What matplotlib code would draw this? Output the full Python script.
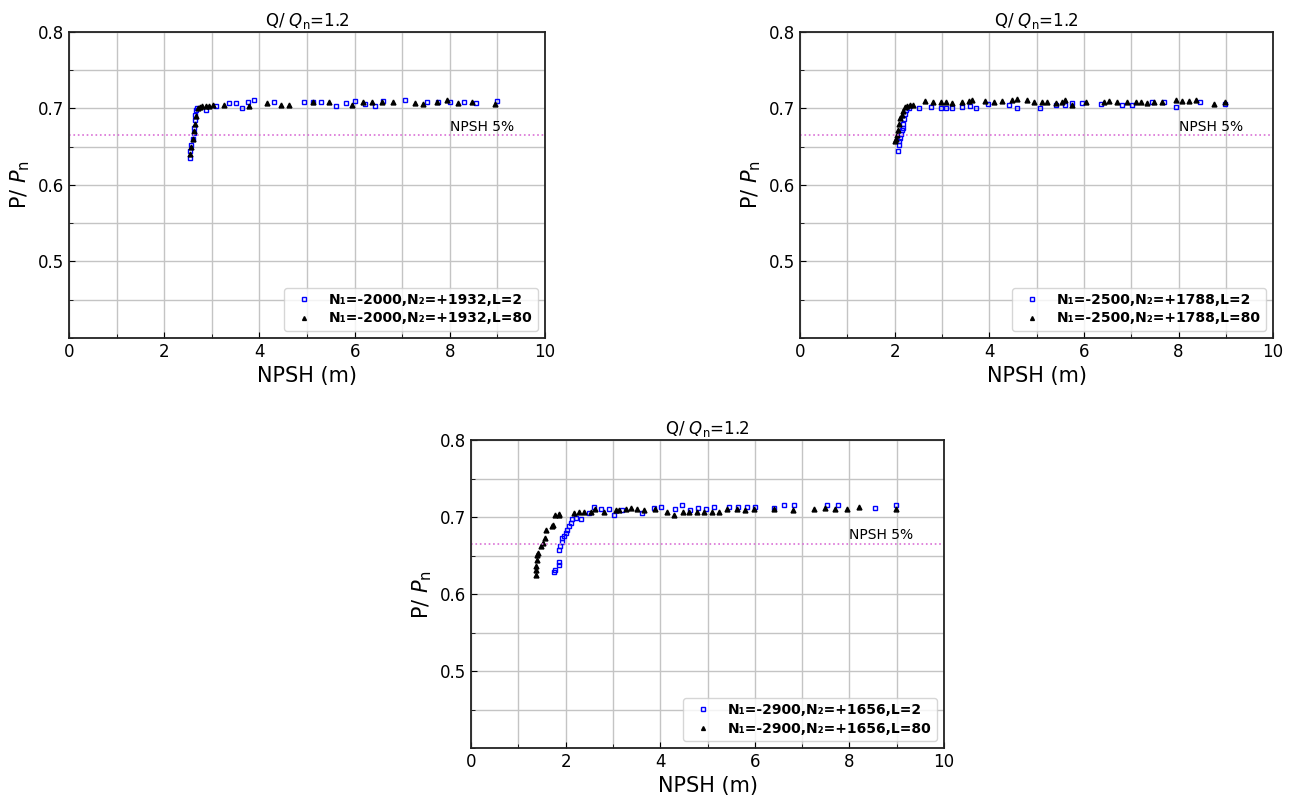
import numpy as np
import matplotlib
matplotlib.use("Agg")
import matplotlib.pyplot as plt
from matplotlib.ticker import MultipleLocator

# ---- data ----
# case 1: N1=-2000, N2=+1932
c1_l2_x = [2.54, 2.55, 2.57, 2.60, 2.62, 2.63, 2.64, 2.65, 2.66, 2.68, 2.87, 3.08, 3.36, 3.50, 3.63,
           3.75, 3.89, 4.31, 4.94, 5.12, 5.30, 5.61, 5.82, 6.01, 6.21, 6.42, 6.60, 7.05, 7.51, 7.76,
           8.00, 8.29, 8.54, 9.00]
c1_l2_y = [0.635, 0.645, 0.652, 0.660, 0.668, 0.675, 0.685, 0.692, 0.698, 0.700, 0.698, 0.703, 0.707,
           0.707, 0.700, 0.708, 0.711, 0.709, 0.709, 0.708, 0.709, 0.703, 0.707, 0.710, 0.706, 0.703,
           0.710, 0.711, 0.709, 0.709, 0.709, 0.708, 0.707, 0.710]
c1_l80_x = [2.55, 2.57, 2.60, 2.62, 2.65, 2.67, 2.70, 2.75, 2.80, 2.88, 2.95, 3.02, 3.25, 3.78, 4.15,
            4.45, 4.63, 5.12, 5.46, 5.95, 6.18, 6.37, 6.58, 6.81, 7.27, 7.44, 7.73, 7.94, 8.18, 8.46,
            8.94]
c1_l80_y = [0.640, 0.650, 0.660, 0.670, 0.680, 0.690, 0.700, 0.702, 0.703, 0.703, 0.703, 0.704, 0.705,
            0.703, 0.707, 0.705, 0.705, 0.709, 0.709, 0.705, 0.708, 0.708, 0.709, 0.708, 0.707, 0.706,
            0.709, 0.711, 0.707, 0.708, 0.706]

# case 2: N1=-2500, N2=+1788
c2_l2_x = [2.08, 2.09, 2.10, 2.12, 2.13, 2.15, 2.17, 2.18, 2.20, 2.22, 2.25, 2.30, 2.51, 2.76, 2.97,
           3.08, 3.22, 3.43, 3.60, 3.71, 3.98, 4.42, 4.59, 5.08, 5.40, 5.61, 5.75, 5.96, 6.37, 6.81,
           7.02, 7.44, 7.69, 7.94, 8.46, 8.99]
c2_l2_y = [0.645, 0.652, 0.658, 0.662, 0.667, 0.672, 0.675, 0.680, 0.686, 0.693, 0.698, 0.700, 0.701,
           0.702, 0.701, 0.700, 0.701, 0.702, 0.703, 0.701, 0.706, 0.704, 0.701, 0.700, 0.705, 0.704,
           0.707, 0.707, 0.706, 0.704, 0.705, 0.708, 0.708, 0.702, 0.708, 0.706]
c2_l80_x = [2.00, 2.03, 2.05, 2.08, 2.10, 2.12, 2.15, 2.18, 2.22, 2.26, 2.32, 2.38, 2.65, 2.80, 2.97,
            3.08, 3.22, 3.43, 3.57, 3.64, 3.92, 4.10, 4.27, 4.48, 4.58, 4.80, 4.94, 5.12, 5.23, 5.40,
            5.54, 5.61, 5.75, 6.04, 6.42, 6.53, 6.71, 6.92, 7.10, 7.20, 7.34, 7.48, 7.65, 7.94, 8.08,
            8.22, 8.36, 8.75, 8.99]
c2_l80_y = [0.657, 0.660, 0.665, 0.672, 0.680, 0.688, 0.692, 0.697, 0.702, 0.703, 0.704, 0.704, 0.710,
            0.708, 0.709, 0.708, 0.707, 0.708, 0.710, 0.711, 0.710, 0.709, 0.710, 0.711, 0.712, 0.711,
            0.709, 0.709, 0.708, 0.707, 0.709, 0.711, 0.705, 0.708, 0.708, 0.710, 0.709, 0.709, 0.708,
            0.708, 0.707, 0.708, 0.709, 0.711, 0.710, 0.710, 0.711, 0.706, 0.708]

# case 3: N1=-2900, N2=+1656
c3_l2_x = [1.75, 1.78, 1.86, 1.87, 1.86, 1.89, 1.92, 1.93, 1.96, 2.00, 2.04, 2.07, 2.11, 2.14, 2.21,
           2.32, 2.49, 2.60, 2.74, 2.92, 3.02, 3.20, 3.62, 3.87, 4.01, 4.32, 4.46, 4.64, 4.80, 4.96,
           5.13, 5.45, 5.65, 5.84, 6.01, 6.40, 6.61, 6.82, 7.53, 7.76, 8.55, 8.99]
c3_l2_y = [0.629, 0.631, 0.638, 0.641, 0.657, 0.662, 0.668, 0.673, 0.675, 0.679, 0.683, 0.688, 0.692,
           0.697, 0.699, 0.697, 0.705, 0.713, 0.710, 0.710, 0.702, 0.709, 0.705, 0.712, 0.713, 0.710,
           0.715, 0.709, 0.712, 0.710, 0.713, 0.713, 0.713, 0.713, 0.713, 0.712, 0.715, 0.716, 0.715,
           0.716, 0.712, 0.716]
c3_l80_x = [1.37, 1.37, 1.38, 1.39, 1.40, 1.42, 1.49, 1.52, 1.56, 1.59, 1.72, 1.74, 1.77, 1.85, 1.87,
            2.18, 2.28, 2.39, 2.53, 2.63, 2.81, 3.06, 3.13, 3.27, 3.39, 3.51, 3.65, 3.90, 4.15, 4.29,
            4.48, 4.61, 4.78, 4.92, 5.10, 5.25, 5.42, 5.63, 5.80, 5.98, 6.40, 6.81, 7.25, 7.49, 7.70,
            7.95, 8.20, 8.99]
c3_l80_y = [0.625, 0.631, 0.636, 0.644, 0.651, 0.653, 0.662, 0.666, 0.673, 0.683, 0.688, 0.690, 0.703,
            0.702, 0.704, 0.705, 0.706, 0.706, 0.707, 0.710, 0.707, 0.709, 0.709, 0.710, 0.712, 0.710,
            0.709, 0.710, 0.707, 0.703, 0.707, 0.706, 0.707, 0.707, 0.707, 0.706, 0.710, 0.710, 0.709,
            0.710, 0.710, 0.709, 0.710, 0.712, 0.710, 0.710, 0.713, 0.710]

labels_l2 = ["N\u2081=-2000,N\u2082=+1932,L=2", "N\u2081=-2500,N\u2082=+1788,L=2",
             "N\u2081=-2900,N\u2082=+1656,L=2"]
labels_l80 = ["N\u2081=-2000,N\u2082=+1932,L=80", "N\u2081=-2500,N\u2082=+1788,L=80",
              "N\u2081=-2900,N\u2082=+1656,L=80"]
npsh_level = 0.665

cases = [(c1_l2_x, c1_l2_y, c1_l80_x, c1_l80_y),
         (c2_l2_x, c2_l2_y, c2_l80_x, c2_l80_y),
         (c3_l2_x, c3_l2_y, c3_l80_x, c3_l80_y)]

fig = plt.figure(figsize=(12.95, 7.99), dpi=100)
rects = [[0.0533, 0.577, 0.3676, 0.383],
         [0.6178, 0.577, 0.3653, 0.383],
         [0.3637, 0.0638, 0.3653, 0.3855]]

for i, (rect, (x2, y2, x80, y80)) in enumerate(zip(rects, cases)):
    ax = fig.add_axes(rect)
    ax.plot(x2, y2, 's', ms=3.5, mfc='none', mec='blue', mew=1.0, label=labels_l2[i])
    ax.plot(x80, y80, '^', ms=3.5, color='black', label=labels_l80[i])
    ax.axhline(npsh_level, color='orchid', ls=':', lw=1.2)
    ax.text(8.0, 0.671, "NPSH 5%", fontsize=10)
    ax.set_xlim(0, 10)
    ax.set_ylim(0.4, 0.8)
    ax.xaxis.set_major_locator(MultipleLocator(2))
    ax.xaxis.set_minor_locator(MultipleLocator(1))
    ax.yaxis.set_major_locator(MultipleLocator(0.1))
    ax.yaxis.set_minor_locator(MultipleLocator(0.05))
    ax.set_yticks([0.5, 0.6, 0.7, 0.8])
    ax.grid(True, which='both', color='#c4c4c4', lw=1)
    ax.tick_params(which='both', direction='in', labelsize=12)
    ax.tick_params(which='major', length=4)
    ax.tick_params(which='minor', length=3)
    for s in ax.spines.values():
        s.set_color('#222222')
        s.set_linewidth(1.3)
    ax.set_xlabel("NPSH (m)", fontsize=15)
    ax.set_ylabel(r"P/ $P_\mathrm{n}$", fontsize=15)
    ax.set_title(r"Q/ $Q_\mathrm{n}$=1.2", fontsize=12, pad=4)
    ax.legend(loc='lower right', prop={'weight': 'bold', 'size': 10}, handletextpad=0.8,
              borderpad=0.4, labelspacing=0.3, markerscale=0.8)

fig.savefig("out.png", dpi=100)
